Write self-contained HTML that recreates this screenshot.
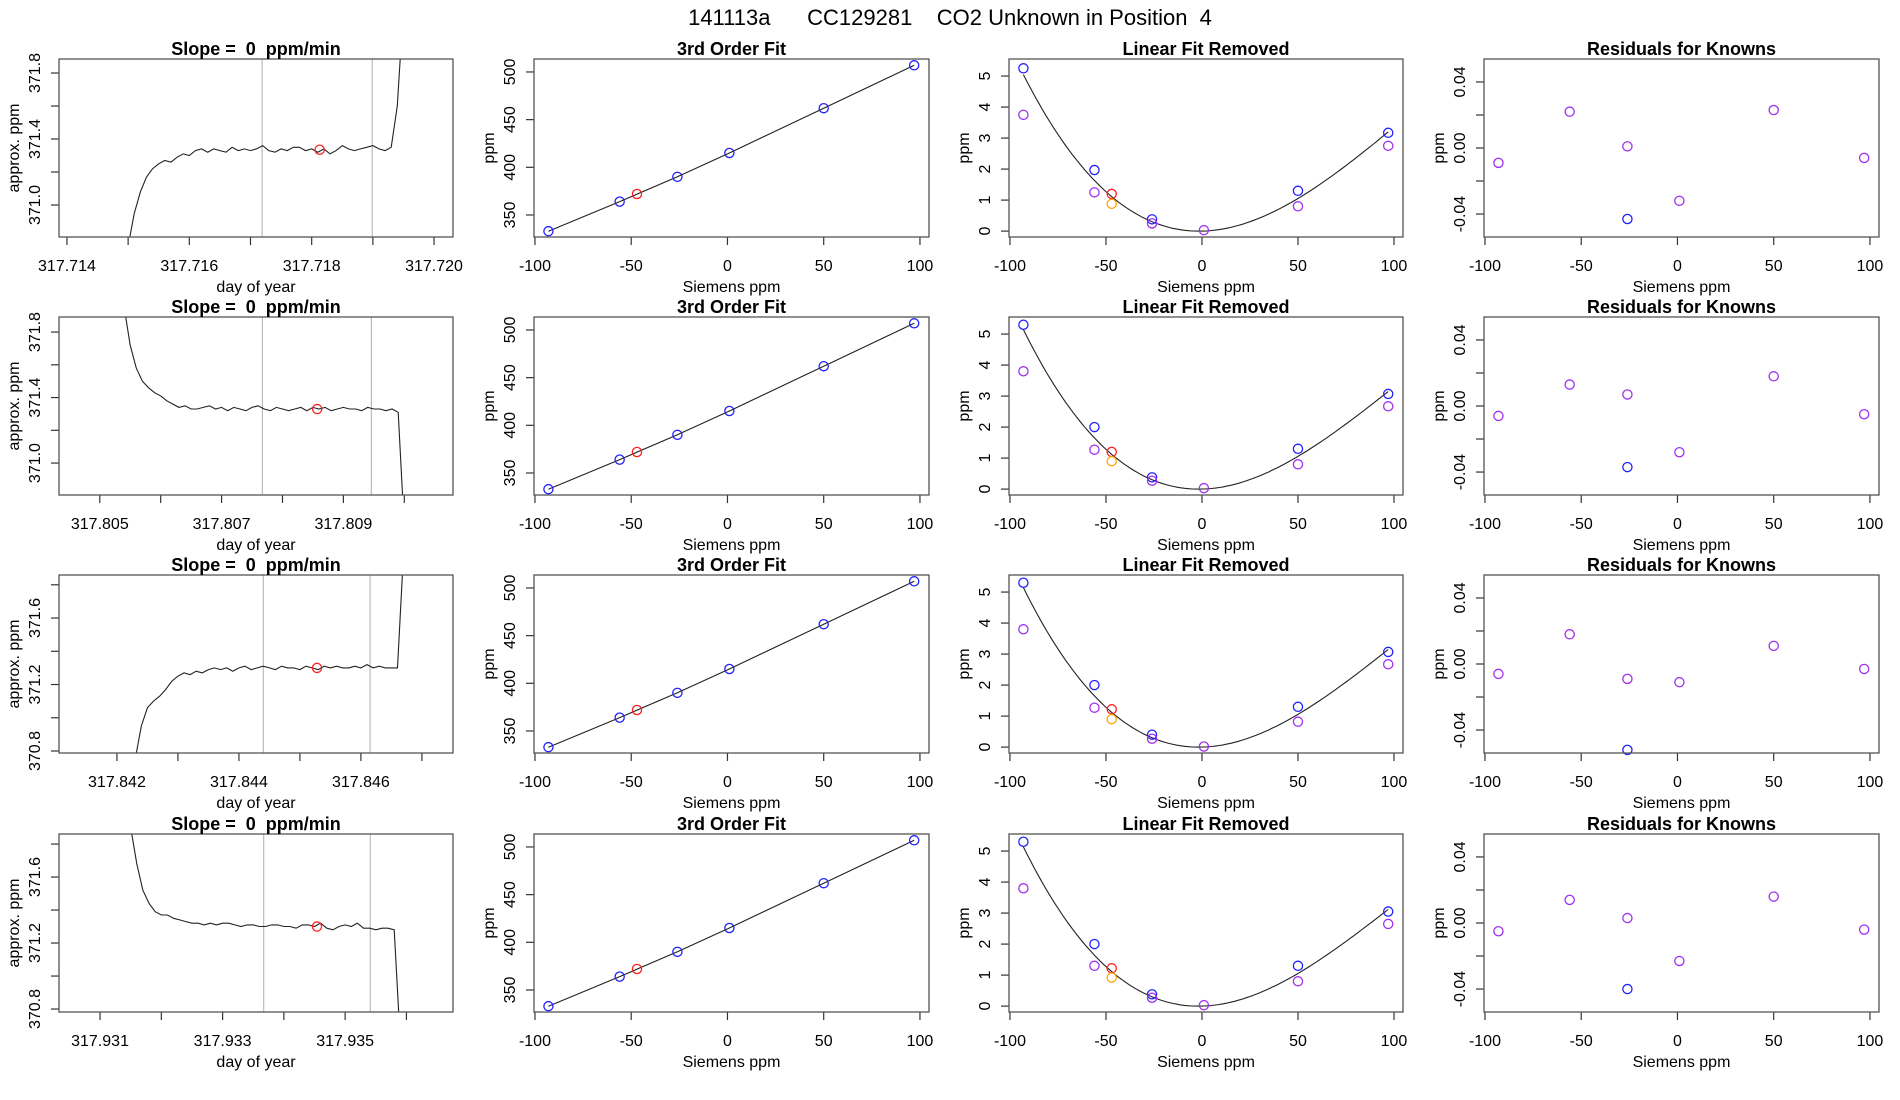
<!DOCTYPE html>
<html><head><meta charset="utf-8"><title>141113a CC129281</title>
<style>
html,body{margin:0;padding:0;background:#fff;}
svg{display:block;font-family:"Liberation Sans",Arial,sans-serif;}
</style></head>
<body>
<svg id="chart" width="1900" height="1100" viewBox="0 0 1900 1100" xmlns="http://www.w3.org/2000/svg">
<text x="950" y="25" text-anchor="middle" font-size="22" style="white-space:pre" xml:space="preserve">141113a      CC129281    CO2 Unknown in Position  4</text>
</svg>
<script>
// ---------- data ----------
const rowTops = [59, 317, 575, 834];
const tsStart = [317.7150, 317.8054, 317.8423, 317.9315];
const tsStep = 0.0001;
const ts1 = [370.75,370.95,371.08,371.17,371.22,371.25,371.27,371.26,371.29,371.31,371.30,371.33,371.34,371.32,371.34,371.33,371.32,371.35,371.33,371.34,371.33,371.34,371.36,371.33,371.32,371.34,371.33,371.35,371.35,371.33,371.34,371.32,371.34,371.31,371.33,371.36,371.34,371.33,371.34,371.35,371.36,371.34,371.33,371.35,371.60,372.20];
const ts2 = [371.95,371.72,371.58,371.50,371.46,371.43,371.41,371.38,371.36,371.34,371.35,371.33,371.33,371.34,371.35,371.33,371.34,371.32,371.34,371.33,371.32,371.34,371.35,371.33,371.32,371.34,371.33,371.32,371.33,371.34,371.32,371.34,371.33,371.34,371.32,371.33,371.34,371.33,371.33,371.32,371.34,371.33,371.33,371.32,371.33,371.31,370.60];
const ts3 = [370.75,370.95,371.06,371.10,371.13,371.17,371.22,371.25,371.27,371.26,371.28,371.27,371.29,371.30,371.29,371.30,371.28,371.30,371.31,371.29,371.30,371.31,371.30,371.29,371.31,371.30,371.30,371.29,371.31,371.30,371.29,371.31,371.30,371.31,371.30,371.30,371.31,371.30,371.32,371.30,371.31,371.30,371.30,371.30,372.00];
const ts4 = [371.90,371.68,371.52,371.44,371.39,371.37,371.37,371.35,371.34,371.33,371.32,371.32,371.31,371.32,371.31,371.32,371.32,371.31,371.30,371.31,371.31,371.30,371.30,371.31,371.31,371.30,371.30,371.29,371.31,371.31,371.30,371.32,371.29,371.28,371.30,371.31,371.30,371.32,371.29,371.29,371.28,371.29,371.29,371.28,370.60];
const tsSeries = [ts1, ts2, ts3, ts4];
const tsXmin = [317.71387, 317.80433, 317.84105, 317.93033];
const tsXmax = [317.72031, 317.81080, 317.84751, 317.93676];
const tsYmin = [370.806, 370.805, 370.788, 370.782];
const tsYmax = [371.885, 371.892, 371.859, 371.861];
const tsXticks = [[317.714,317.715,317.716,317.717,317.718,317.719,317.720],[317.805,317.806,317.807,317.808,317.809,317.810],[317.842,317.843,317.844,317.845,317.846,317.847],[317.931,317.932,317.933,317.934,317.935,317.936]];
const tsXlabels = [["317.714","","317.716","","317.718","","317.720"],["317.805","","317.807","","317.809",""],["317.842","","317.844","","317.846",""],["317.931","","317.933","","317.935",""]];
const tsYticks = [[371.0,371.2,371.4,371.6,371.8],[371.0,371.2,371.4,371.6,371.8],[370.8,371.0,371.2,371.4,371.6,371.8],[370.8,371.0,371.2,371.4,371.6,371.8]];
const tsYlabels = [["371.0","","371.4","","371.8"],["371.0","","371.4","","371.8"],["370.8","","371.2","","371.6",""],["370.8","","371.2","","371.6",""]];
const grayLines = [[317.71719,317.71899],[317.80767,317.80946],[317.84440,317.84615],[317.93367,317.93541]];
const tsMarkX = [317.71813, 317.80857, 317.84528, 317.93454];
const tsMarkY = [371.335, 371.33, 371.30, 371.30];

const knownX = [-93,-56,-26,1,50,97];
const knownY = [333,364,390,415,462,507];
const unkX = -47;
const unkY = 372;

const lfBlue = [[5.25,1.97,0.38,1.30,3.17],[5.30,2.00,0.38,1.30,3.07],[5.30,2.00,0.40,1.30,3.07],[5.30,2.00,0.38,1.30,3.05]];
const lfBlueX = [-93,-56,-26,50,97];
const lfPurple = [[3.75,1.25,0.25,0.03,0.80,2.75],[3.80,1.27,0.27,0.03,0.80,2.67],[3.80,1.27,0.27,0.02,0.82,2.67],[3.80,1.30,0.27,0.03,0.80,2.65]];
const lfRed = [1.20,1.20,1.22,1.22];
const lfOrange = [0.88,0.90,0.90,0.92];
const fitA = [4.65e-4, 4.68e-4, 4.68e-4, 4.66e-4];
const fitB = [-1.437e-6, -1.55e-6, -1.55e-6, -1.57e-6];
const fitC = [0.00139, 0.0016, 0.0016, 0.0017];

const resPurple = [[-0.009,0.022,0.001,-0.032,0.023,-0.006],[-0.006,0.013,0.007,-0.028,0.018,-0.005],[-0.006,0.018,-0.009,-0.011,0.011,-0.003],[-0.005,0.014,0.003,-0.023,0.016,-0.004]];
const resBlue = [-0.043,-0.037,-0.052,-0.040];

const sieXticks = [-100,-50,0,50,100];
const sieXlabels = ["-100","-50","0","50","100"];
const calYticks = [350,400,450,500];
const calYlabels = ["350","400","450","500"];
const lfYticks = [0,1,2,3,4,5];
const lfYlabels = ["0","1","2","3","4","5"];
const resYticks = [-0.04,-0.02,0,0.02,0.04];
const resYlabels = ["-0.04","","0.00","","0.04"];

// ---------- drawing ----------
const NS = "http://www.w3.org/2000/svg";
const svg = document.getElementById('chart');
function mk(tag, attrs, parent) {
  const e = document.createElementNS(NS, tag);
  for (const k in attrs) e.setAttribute(k, attrs[k]);
  (parent || svg).appendChild(e);
  return e;
}
const colX = [[59,453],[534,929],[1009,1403],[1484,1879]];
const H = 178;

function panel(r, c, xmin, xmax, ymin, ymax, name) {
  const [x0, x1] = colX[c];
  const y0 = rowTops[r], y1 = y0 + H;
  const g = mk('g', {});
  
  
  const sx = v => x0 + (v - xmin) / (xmax - xmin) * (x1 - x0);
  const sy = v => y1 - (v - ymin) / (ymax - ymin) * (y1 - y0);
  return {g, sx, sy, x0, x1, y0, y1};
}
function frame(p, title, xt, xl, yt, yl, xlab, ylab) {
  const {g, sx, sy, x0, x1, y0, y1} = p;
  const ax = mk('g', {stroke: '#333', 'stroke-width': 1.2}, g);
  
  
  xt.forEach((v, i) => {
    const x = sx(v);
    mk('line', {x1: x, x2: x, y1: y1, y2: y1 + 8}, ax);
    if (xl[i]) {
      const t = mk('text', {x: x, y: y1 + 34, 'text-anchor': 'middle', 'font-size': 16, stroke: 'none', fill: '#000'}, g);
      
      
      t.textContent = xl[i];
    }
  });
  yt.forEach((v, i) => {
    const y = sy(v);
    mk('line', {x1: x0 - 8, x2: x0, y1: y, y2: y}, ax);
    if (yl[i]) {
      const t = mk('text', {x: 0, y: 0, 'text-anchor': 'middle', 'font-size': 16, fill: '#000', transform: `translate(${x0 - 19},${y}) rotate(-90)`}, g);
      
      
      t.textContent = yl[i];
    }
  });
  const b = mk('rect', {x: x0, y: y0, width: x1 - x0, height: y1 - y0, fill: 'none', stroke: '#555', 'stroke-width': 1.3}, g);
  
  
  const tt = mk('text', {x: (x0 + x1) / 2, y: y0 - 4, 'text-anchor': 'middle', 'font-size': 18, 'font-weight': 'bold', style: 'white-space:pre'}, g);
  
  
  tt.textContent = title;
  const xa = mk('text', {x: (x0 + x1) / 2, y: y1 + 55, 'text-anchor': 'middle', 'font-size': 16}, g);
  
  
  xa.textContent = xlab;
  const ya = mk('text', {x: 0, y: 0, 'text-anchor': 'middle', 'font-size': 16, transform: `translate(${x0 - 40},${(y0 + y1) / 2}) rotate(-90)`}, g);
  
  
  ya.textContent = ylab;
}
function circ(p, x, y, col, name) {
  const c = mk('circle', {cx: p.sx(x), cy: p.sy(y), r: 4.6, fill: 'none', stroke: col, 'stroke-width': 1.3}, p.g);
  
  
}
function clipFor(p, id) {
  const cp = mk('clipPath', {id: id}, svg);
  mk('rect', {x: p.x0, y: p.y0, width: p.x1 - p.x0, height: p.y1 - p.y0}, cp);
  return `url(#${id})`;
}

for (let r = 0; r < 4; r++) {
  const p1 = panel(r, 0, tsXmin[r], tsXmax[r], tsYmin[r], tsYmax[r], 'time-series-panel');
  grayLines[r].forEach(v => {
    const l = mk('line', {x1: p1.sx(v), x2: p1.sx(v), y1: p1.y0, y2: p1.y1, stroke: '#bbb', 'stroke-width': 1.2}, p1.g);
    
    
  });
  const pts = tsSeries[r].map((v, i) => `${p1.sx(tsStart[r] + i * tsStep).toFixed(1)},${p1.sy(v).toFixed(1)}`).join(' ');
  const pl = mk('polyline', {points: pts, fill: 'none', stroke: '#222', 'stroke-width': 1.1, 'clip-path': clipFor(p1, 'c' + r)}, p1.g);
  
  
  circ(p1, tsMarkX[r], tsMarkY[r], '#ff2020', 'mean-point');
  frame(p1, 'Slope =  0  ppm/min', tsXticks[r], tsXlabels[r], tsYticks[r], tsYlabels[r], 'day of year', 'approx. ppm');

  const p2 = panel(r, 1, -100.5, 104.7, 326.9, 513.6, 'third-order-fit-panel');
  const lpts = knownX.map((x, i) => `${p2.sx(x).toFixed(1)},${p2.sy(knownY[i]).toFixed(1)}`).join(' ');
  const fl = mk('polyline', {points: lpts, fill: 'none', stroke: '#222', 'stroke-width': 1.1}, p2.g);
  
  
  knownX.forEach((x, i) => circ(p2, x, knownY[i], '#2020ff', 'known-point'));
  circ(p2, unkX, unkY, '#ff2020', 'unknown-point');
  frame(p2, '3rd Order Fit', sieXticks, sieXlabels, calYticks, calYlabels, 'Siemens ppm', 'ppm');

  const p3 = panel(r, 2, -100.5, 104.7, -0.19, 5.55, 'linear-fit-removed-panel');
  let cpts = [];
  for (let x = -93; x <= 97; x += 2) {
    const y = fitA[r] * x * x + fitB[r] * x * x * x + fitC[r] * x;
    cpts.push(`${p3.sx(x).toFixed(1)},${p3.sy(y).toFixed(1)}`);
  }
  const cl = mk('polyline', {points: cpts.join(' '), fill: 'none', stroke: '#222', 'stroke-width': 1.1}, p3.g);
  
  
  lfBlueX.forEach((x, i) => circ(p3, x, lfBlue[r][i], '#2020ff', 'known-point'));
  knownX.forEach((x, i) => circ(p3, x, lfPurple[r][i], '#a030f0', 'known-point-adjusted'));
  circ(p3, unkX, lfRed[r], '#ff2020', 'unknown-point');
  circ(p3, unkX, lfOrange[r], '#ffa500', 'unknown-point-adjusted');
  frame(p3, 'Linear Fit Removed', sieXticks, sieXlabels, lfYticks, lfYlabels, 'Siemens ppm', 'ppm');

  const p4 = panel(r, 3, -100.5, 104.7, -0.0539, 0.0539, 'residuals-panel');
  knownX.forEach((x, i) => circ(p4, x, resPurple[r][i], '#a030f0', 'residual-point'));
  circ(p4, -26, resBlue[r], '#2020ff', 'residual-point-blue');
  frame(p4, 'Residuals for Knowns', sieXticks, sieXlabels, resYticks, resYlabels, 'Siemens ppm', 'ppm');
}
</script>
</body></html>
